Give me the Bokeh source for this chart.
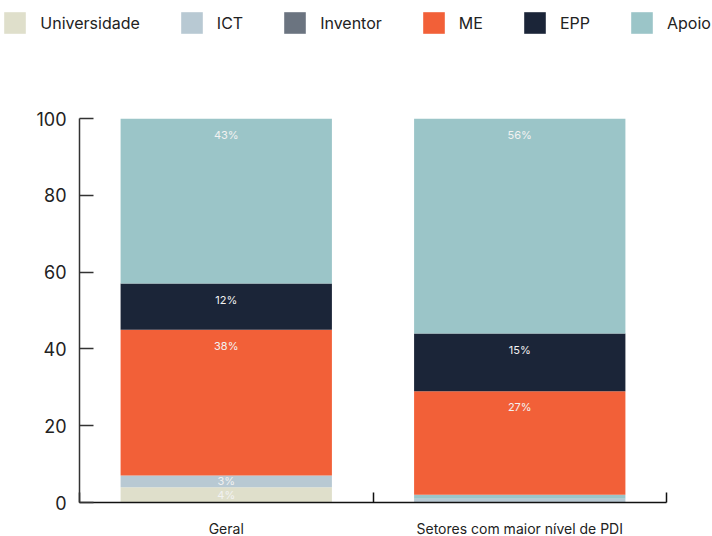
from bokeh.plotting import figure
from bokeh.layouts import column
from bokeh.models import (ColumnDataSource, Range1d, FixedTicker, Legend, LegendItem)
from bokeh.core.properties import value
from bokeh.embed import file_html
from bokeh.resources import INLINE

categories = ["Geral", "Setores com maior nível de PDI"]
series = ["Universidade", "ICT", "Inventor", "ME", "EPP", "Apoio"]
universidade = [4, 0]
ict = [3, 1]
inventor = [0, 0]
me = [38, 27]
epp = [12, 15]
apoio = [43, 56]
apoio_base = [0, 1]  # thin teal strip seen under ME in the second bar
y_ticks = [0, 20, 40, 60, 80, 100]

colors = {
    "Universidade": "#dfdfcb",
    "ICT": "#b8c9d3",
    "Inventor": "#6b7480",
    "ME": "#f26038",
    "EPP": "#1b2538",
    "Apoio": "#9bc5c8",
}

FONT = "Inter"

xs = [i + 0.5 for i in range(len(categories))]
data = {
    "x": xs,
    "Universidade": universidade,
    "ICT": ict,
    "ApoioBase": apoio_base,
    "Inventor": inventor,
    "ME": me,
    "EPP": epp,
    "Apoio": apoio,
}
source = ColumnDataSource(data)
stack_order = ["Universidade", "ICT", "ApoioBase", "Inventor", "ME", "EPP", "Apoio"]
stack_colors = [colors["Apoio"] if s == "ApoioBase" else colors[s] for s in stack_order]

# ---------- legend strip ----------
LH = 106
lf = figure(frame_width=708, frame_height=LH - 9, output_backend="svg", toolbar_location=None,
            x_range=Range1d(0, 1), y_range=Range1d(0, 1),
            min_border_left=4, min_border_right=0, min_border_top=9, min_border_bottom=0)
lf.axis.visible = False
lf.grid.visible = False
lf.outline_line_color = None
leg_items = []
for s in series:
    # zero-height proxy glyph, only used to draw the legend swatch
    r = lf.vbar(x=[0.5], top=[0], bottom=[0], width=0.01, fill_color=colors[s],
                line_color=None)
    leg_items.append(LegendItem(label=s, renderers=[r]))
legend = Legend(items=leg_items, orientation="horizontal", location="top_left",
                glyph_width=27, glyph_height=27, label_standoff=12, spacing=38,
                padding=0, margin=0, border_line_color=None, background_fill_alpha=0,
                label_text_font=FONT, label_text_font_size="16px",
                label_text_color="#222222", label_height=27)
lf.add_layout(legend, "center")

# ---------- main chart ----------
FW, FH = 587, 384
p = figure(frame_width=FW, frame_height=FH, output_backend="svg", toolbar_location=None,
           x_range=Range1d(0, 2), y_range=Range1d(0, 100),
           min_border_left=79, min_border_right=46, min_border_top=12, min_border_bottom=34)

p.vbar_stack(stack_order, x="x", width=0.72, color=stack_colors,
             line_color=None, source=source)

# segment labels
lx, ly, lt = [], [], []
for i, x in enumerate(xs):
    cum = 0
    for s in stack_order:
        v = data[s][i]
        cum += v
        if v >= 3:
            lx.append(x)
            ly.append(cum - min(v / 2, 4.2))
            lt.append(f"{v}%")
p.text(x=lx, y=ly, text=lt, text_align="center", text_baseline="middle",
       text_color="#f2f2f2", text_font_size="11px", text_font=value(FONT))

p.xgrid.visible = False
p.ygrid.visible = False
p.outline_line_color = None

xa = p.xaxis[0]
xa.ticker = FixedTicker(ticks=xs, minor_ticks=[0, 1, 2])
xa.major_label_overrides = {xs[i]: categories[i] for i in range(len(categories))}
xa.major_tick_in = 0
xa.major_tick_out = 0
xa.minor_tick_in = 10
xa.minor_tick_out = 0
xa.minor_tick_line_color = "#111111"
xa.minor_tick_line_width = 1.5
xa.axis_line_color = "#111111"
xa.axis_line_width = 1.5
xa.major_label_text_font = FONT
xa.major_label_text_font_size = "14px"
xa.major_label_text_color = "#222222"
xa.major_label_standoff = 17

ya = p.yaxis[0]
ya.ticker = FixedTicker(ticks=y_ticks)
ya.major_tick_in = 14
ya.major_tick_out = 0
ya.minor_tick_line_color = None
ya.major_tick_line_color = "#333333"
ya.major_tick_line_width = 1.5
ya.axis_line_color = "#333333"
ya.axis_line_width = 1.5
ya.major_label_text_font = FONT
ya.major_label_text_font_size = "18px"
ya.major_label_text_color = "#222222"
ya.major_label_standoff = 13

layout = column(lf, p, spacing=0)
open("out.html", "w").write(file_html(layout, INLINE))
